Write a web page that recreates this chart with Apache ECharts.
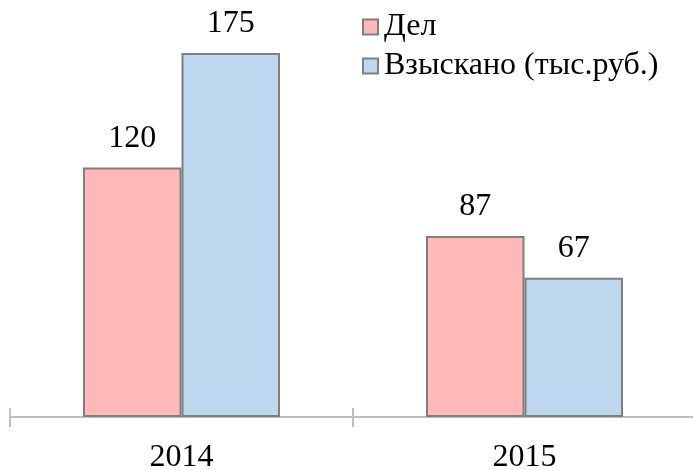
<!DOCTYPE html>
<html><head><meta charset="utf-8">
<script src="https://cdn.jsdelivr.net/npm/echarts@6/dist/echarts.min.js"></script>
<style>html,body{margin:0;padding:0;background:#fff}#c{width:693px;height:470px}</style>
</head><body><div id="c"></div>
<script>
const categories = ['2014', '2015'];
const seriesNames = ['Дел', 'Взыскано (тыс.руб.)'];
const delValues = [120, 87];
const vzyskanoValues = [175, 67];

const font = '"Liberation Serif", "Times New Roman", serif';
const chart = echarts.init(document.getElementById('c'));
chart.setOption({
  animation: false,
  grid: { left: 10, width: 686, top: 1, bottom: 53, containLabel: false, outerBoundsMode: 'none' },
  legend: {
    orient: 'vertical', left: 357, top: 6,
    itemWidth: 15, itemHeight: 15, itemGap: 7,
    icon: 'rect',
    textStyle: { fontFamily: font, fontSize: 32, color: '#000', padding: [0, 0, 0, 1] },
    data: seriesNames
  },
  xAxis: [{
    type: 'category', data: categories,
    axisLine: { lineStyle: { color: '#BFBFBF', width: 2 } },
    axisTick: { show: true, length: 10, lineStyle: { color: '#BFBFBF', width: 2 } },
    axisLabel: { fontFamily: font, fontSize: 32, color: '#000', margin: 25 }
  }, {
    type: 'category', data: categories, position: 'bottom',
    axisLine: { show: false },
    axisTick: { show: true, inside: true, length: 9, lineStyle: { color: '#BFBFBF', width: 2 } },
    axisLabel: { show: false }
  }],
  yAxis: { type: 'value', min: 0, max: 200, show: false, splitLine: { show: false } },
  series: [{
    name: seriesNames[0], type: 'bar', data: delValues, barWidth: 98.5, barGap: '0%',
    itemStyle: { color: '#FFB9B9', borderColor: '#7F7F7F', borderWidth: 2 },
    label: { show: true, position: 'top', distance: 13, fontFamily: font, fontSize: 32, color: '#000' }
  }, {
    name: seriesNames[1], type: 'bar', data: vzyskanoValues, barWidth: 98.5, barGap: '0%',
    itemStyle: { color: '#BDD7EE', borderColor: '#7F7F7F', borderWidth: 2 },
    label: { show: true, position: 'top', distance: 13, fontFamily: font, fontSize: 32, color: '#000' }
  }]
});
</script></body></html>
